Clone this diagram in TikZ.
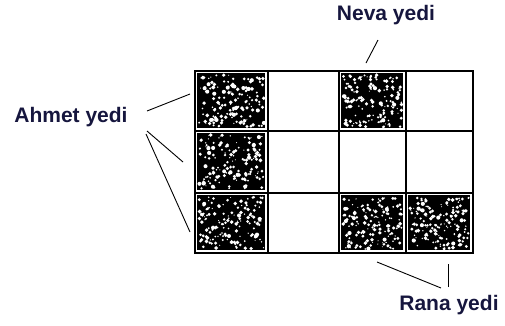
\documentclass[tikz,border=0pt]{standalone}
\usepackage{fontspec}
\setmainfont{Liberation Sans}
\definecolor{lblcol}{RGB}{22,22,62}
\begin{document}
\begin{tikzpicture}[x=1pt,y=-1pt,
  lbl/.style={font=\bfseries\fontsize{21}{21}\selectfont, text=lblcol, inner sep=0pt},
  lead/.style={line width=0.9pt, black},
  gridline/.style={line width=2.4pt, black}]
\useasboundingbox (0,0) rectangle (505,325);
\pgfmathsetseed{4711}
% textured cells
\foreach \xa/\ya/\xb/\yb in {195/71/268/131, 195/131/268/193, 195/193/268/253, 339/71/406/131, 339/193/406/253, 406/193/473/253}{
  \fill[black] (\xa+2,\ya+2) rectangle (\xb-3,\yb-3);
  \foreach \i in {1,...,150}{
    \pgfmathsetmacro\px{\xa+4+rnd*(\xb-\xa-8)}
    \pgfmathsetmacro\py{\ya+4+rnd*(\yb-\ya-8)}
    \pgfmathsetmacro\pr{0.5+rnd*1.6}
    \fill[white] (\px,\py) circle (\pr);
  }
}
% grid
\draw[gridline] (195,71) rectangle (473,253);
\foreach \gx in {268,339,406}{\draw[gridline] (\gx,71) -- (\gx,253);}
\foreach \gy in {131,193}{\draw[gridline] (195,\gy) -- (473,\gy);}
% labels
\node[lbl] (ahmet) at (71,117) {Ahmet yedi};
\node[lbl] (neva) at (386,15) {Neva yedi};
\node[lbl] (rana) at (449,305) {Rana yedi};
% connector ends
\coordinate (a0) at (147,111);
\coordinate (a1) at (190,94);
\coordinate (a2) at (147,131);
\coordinate (a3) at (183,162);
\coordinate (a4) at (146,134);
\coordinate (a5) at (190,232);
\coordinate (n0) at (378,40);
\coordinate (n1) at (366,63);
\coordinate (r0) at (441,288);
\coordinate (r1) at (377,262);
\coordinate (r2) at (448,287);
\coordinate (r3) at (448,264);
\draw[lead] (a0) -- (a1);
\draw[lead] (a2) -- (a3);
\draw[lead] (a4) -- (a5);
\draw[lead] (n0) -- (n1);
\draw[lead] (r0) -- (r1);
\draw[lead] (r2) -- (r3);
\end{tikzpicture}
\end{document}
